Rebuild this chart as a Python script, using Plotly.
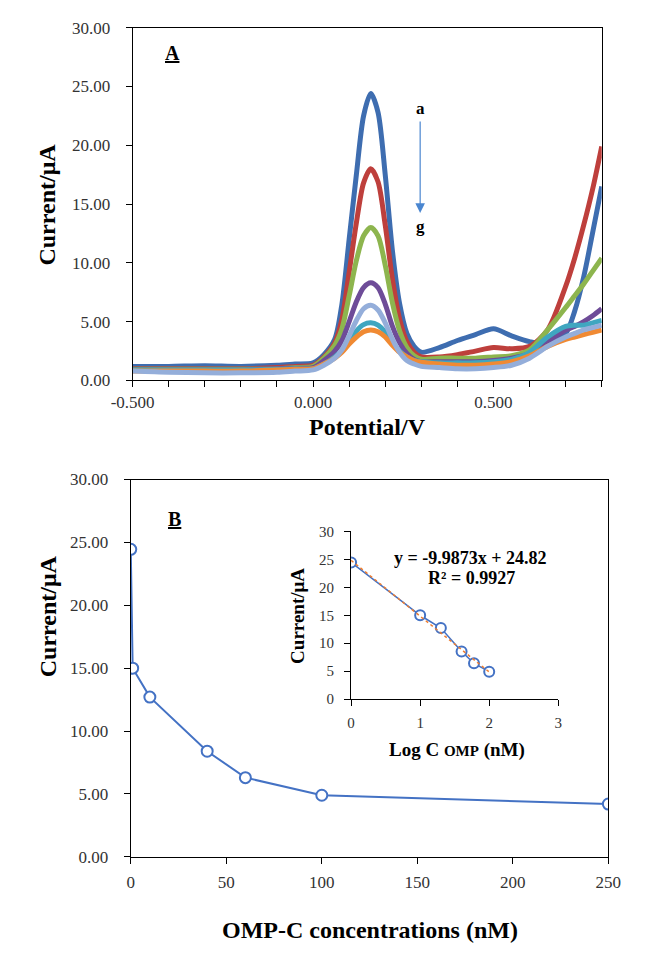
import plotly.graph_objects as go

# ---------------- Panel A data ----------------
potential = [-0.5, -0.4, -0.3, -0.2, -0.1, -0.05, 0.0, 0.03, 0.06, 0.08, 0.10, 0.12, 0.14,
             0.16, 0.18, 0.20, 0.22, 0.24, 0.26, 0.28, 0.30, 0.35, 0.40, 0.45, 0.50, 0.55,
             0.60, 0.65, 0.70, 0.725, 0.75, 0.775, 0.80]

curve_a = [1.2, 1.2, 1.25, 1.2, 1.3, 1.4, 1.5, 2.2, 3.5, 6.5, 12.0, 17.5, 22.5,
           24.4, 22.8, 17.5, 11.0, 6.5, 4.0, 2.9, 2.4, 2.8, 3.4, 3.9, 4.4, 3.8,
           3.3, 3.1, 4.0, 5.9, 8.8, 12.6, 16.5]
curve_b = [1.0, 1.0, 1.0, 1.0, 1.1, 1.2, 1.3, 2.0, 3.2, 5.2, 9.2, 13.4, 16.8,
           18.0, 16.9, 13.2, 8.6, 5.2, 3.3, 2.4, 2.0, 2.0, 2.2, 2.5, 2.8, 2.7,
           2.9, 4.3, 8.0, 10.4, 13.2, 16.3, 19.9]
curve_c = [0.95, 0.95, 0.95, 0.95, 1.0, 1.1, 1.2, 1.9, 3.0, 4.4, 7.2, 10.2, 12.3,
           13.0, 12.3, 9.8, 6.6, 4.2, 2.8, 2.1, 1.8, 1.9, 1.9, 1.9, 2.0, 2.1,
           2.6, 4.3, 6.2, 7.2, 8.2, 9.3, 10.4]
curve_d = [0.9, 0.9, 0.9, 0.9, 1.0, 1.05, 1.1, 1.7, 2.5, 3.4, 5.0, 6.7, 7.9,
           8.3, 7.9, 6.5, 4.6, 3.2, 2.3, 1.8, 1.6, 1.6, 1.6, 1.6, 1.7, 1.9,
           2.3, 3.3, 4.3, 4.6, 5.0, 5.5, 6.1]
curve_e = [0.8, 0.7, 0.65, 0.65, 0.7, 0.8, 0.9, 1.3, 1.9, 2.6, 3.8, 5.1, 6.1,
           6.4, 6.0, 4.9, 3.5, 2.4, 1.7, 1.4, 1.2, 1.1, 1.0, 1.0, 1.1, 1.3,
           1.9, 2.9, 3.7, 4.0, 4.3, 4.5, 4.7]
curve_f = [0.9, 0.9, 0.9, 0.9, 0.95, 1.0, 1.0, 1.4, 2.0, 2.5, 3.3, 4.2, 4.75,
           4.9, 4.7, 4.1, 3.2, 2.5, 2.0, 1.7, 1.6, 1.5, 1.5, 1.5, 1.6, 1.8,
           2.4, 3.7, 4.6, 4.7, 4.7, 4.9, 5.1]
curve_g = [0.8, 0.8, 0.8, 0.8, 0.9, 0.95, 1.0, 1.4, 1.9, 2.4, 3.1, 3.7, 4.15,
           4.3, 4.15, 3.7, 3.0, 2.4, 2.0, 1.7, 1.55, 1.4, 1.3, 1.3, 1.4, 1.6,
           2.1, 2.9, 3.5, 3.7, 3.9, 4.1, 4.3]

curve_names = ["a", "b", "c", "d", "e", "f", "g"]
curve_colors = ["#3E6DB0", "#BE3F3C", "#8DB54E", "#6E4C98", "#94AEDA", "#3FA6C0", "#F08A33"]

# ---------------- Panel B data ----------------
conc_nM = [0, 1, 10, 40, 60, 100, 250]
current_B = [24.45, 15.0, 12.7, 8.4, 6.3, 4.9, 4.2]

log_c = [0, 1.0, 1.3, 1.6, 1.78, 2.0]
current_inset = [24.45, 15.0, 12.7, 8.5, 6.4, 4.9]
fit_slope = -9.9873
fit_intercept = 24.82

SERIF = "Liberation Serif, Times New Roman, serif"
BLUE = "#4472C4"

fig = go.Figure()

all_curves = [curve_a, curve_b, curve_c, curve_d, curve_e, curve_f, curve_g]
draw_order = [0, 1, 2, 3, 5, 6, 4]
for i in draw_order:
    fig.add_trace(go.Scatter(x=potential, y=all_curves[i], mode="lines", name=curve_names[i],
                             line=dict(color=curve_colors[i], width=5, shape="spline", smoothing=0.8),
                             xaxis="x", yaxis="y", showlegend=False, hoverinfo="skip"))

fig.add_trace(go.Scatter(x=conc_nM, y=current_B, mode="lines+markers",
                         line=dict(color=BLUE, width=2),
                         marker=dict(symbol="circle", size=11, color="white",
                                     line=dict(color=BLUE, width=2)),
                         xaxis="x2", yaxis="y2", showlegend=False))

fit_x = [log_c[0], log_c[-1]]
fit_y = [fit_slope * v + fit_intercept for v in fit_x]
fig.add_trace(go.Scatter(x=log_c, y=current_inset, mode="lines+markers",
                         line=dict(color=BLUE, width=1.5),
                         marker=dict(symbol="circle", size=10, color="white",
                                     line=dict(color=BLUE, width=2)),
                         xaxis="x3", yaxis="y3", showlegend=False))
fig.add_trace(go.Scatter(x=fit_x, y=fit_y, mode="lines",
                         line=dict(color="#ED7D31", width=1.5, dash="dot"),
                         xaxis="x3", yaxis="y3", showlegend=False))

W, H = 645, 960
def px(x): return x / W
def py(y): return 1 - y / H

tickfont = dict(family=SERIF, size=17, color="#333333")
insetfont = dict(family=SERIF, size=15, color="#333333")
common = dict(ticks="outside", ticklen=6, tickcolor="black", showline=True, linecolor="black",
              linewidth=1, showgrid=False, zeroline=False)

fig.update_layout(
    width=W, height=H,
    margin=dict(l=0, r=0, t=0, b=0),
    paper_bgcolor="white", plot_bgcolor="white",
    showlegend=False,
    xaxis=dict(domain=[px(117), px(613)], anchor="y", range=[-0.5, 0.8],
               tickvals=[-0.5, 0.0, 0.5], ticktext=["-0.500", "0.000", "0.500"],
               minor=dict(dtick=0.1, tick0=-0.5, ticks="outside", ticklen=6, tickcolor="black"),
               mirror=True, tickfont=tickfont, ticklabelstandoff=0, **common),
    yaxis=dict(domain=[py(379), py(19)], anchor="x", range=[0, 30], dtick=5, tickformat=".2f",
               mirror=True, tickfont=tickfont, ticklabelstandoff=12, **common),
    xaxis2=dict(domain=[px(115), px(620)], anchor="y2", range=[0, 250], dtick=50,
                mirror=True, tickfont=tickfont, ticklabelstandoff=4, **common),
    yaxis2=dict(domain=[py(865), py(480)], anchor="x2", range=[0, 30], dtick=5, tickformat=".2f",
                mirror=True, tickfont=tickfont, ticklabelstandoff=12, **common),
    xaxis3=dict(domain=[px(348), px(567)], anchor="y3", range=[0, 3], dtick=1,
                tickfont=insetfont, ticklabelstandoff=4, **common),
    yaxis3=dict(domain=[py(704), py(533)], anchor="x3", range=[0, 30], dtick=5,
                tickfont=insetfont, ticklabelstandoff=7, **common),
)

ann = []
def text(x, y, t, size, bold=True, angle=0, color="black"):
    ann.append(dict(xref="paper", yref="paper", x=px(x), y=py(y), text=(f"<b>{t}</b>" if bold else t),
                    showarrow=False, textangle=angle, xanchor="center", yanchor="middle",
                    font=dict(family=SERIF, size=size, color=color)))

text(27, 200, "Current/μA", 24, angle=-90)
text(365, 426, "Potential/V", 24)
text(159, 45, "<u>A</u>", 20)
text(421, 102, "a", 17)
text(421, 222, "g", 17)
text(27, 620, "Current/μA", 24, angle=-90)
text(368, 940, "OMP-C concentrations (nM)", 24)
text(161, 520, "<u>B</u>", 20)
text(292, 619, "Current/μA", 19, angle=-90)
text(460, 756, "Log C <span style='font-size:15px'>OMP</span> (nM)", 19)
text(474, 560, "y = -9.9873x + 24.82", 18)
text(475, 580, "R² = 0.9927", 18)

ann.append(dict(xref="paper", yref="paper", x=px(421), y=py(208), ax=0, ay=-93,
                axref="pixel", ayref="pixel", text="", showarrow=True,
                arrowhead=2, arrowsize=1.6, arrowwidth=1.2, arrowcolor="#4A86D0"))

fig.update_layout(annotations=ann)

fig.write_html("out.html")
